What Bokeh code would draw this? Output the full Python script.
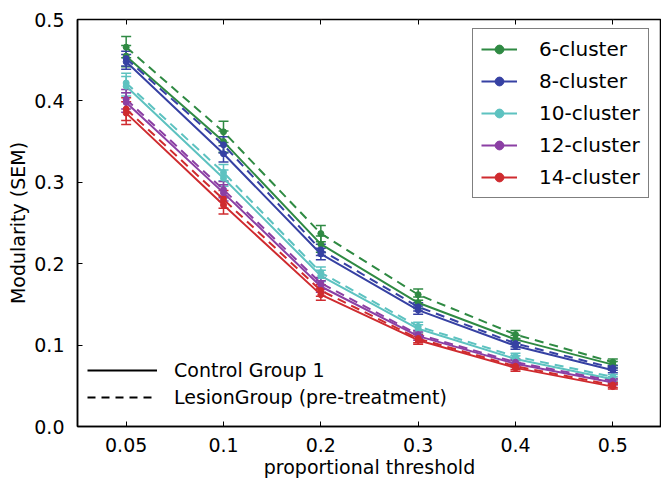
from bokeh.plotting import figure
from bokeh.models import (ColumnDataSource, Whisker, TeeHead, Legend, LegendItem,
                          FactorRange, CategoricalAxis, Range1d)
from bokeh.embed import file_html
from bokeh.resources import INLINE

thresholds = ["0.05", "0.1", "0.2", "0.3", "0.4", "0.5"]
clusters = ["6-cluster", "8-cluster", "10-cluster", "12-cluster", "14-cluster"]
colors = ["#2f8a43", "#3641a3", "#5dc2c0", "#8b3fa4", "#cf2b2f"]

# Control Group 1 (solid)
control_6 = [0.455, 0.350, 0.224, 0.152, 0.107, 0.076]
control_8 = [0.448, 0.335, 0.212, 0.143, 0.099, 0.069]
control_10 = [0.418, 0.305, 0.185, 0.120, 0.083, 0.058]
control_12 = [0.398, 0.287, 0.172, 0.111, 0.077, 0.054]
control_14 = [0.385, 0.272, 0.162, 0.106, 0.072, 0.049]

# LesionGroup (pre-treatment) (dashed)
lesion_6 = [0.466, 0.362, 0.237, 0.162, 0.113, 0.079]
lesion_8 = [0.452, 0.346, 0.217, 0.147, 0.102, 0.072]
lesion_10 = [0.422, 0.312, 0.189, 0.123, 0.086, 0.061]
lesion_12 = [0.402, 0.291, 0.176, 0.113, 0.079, 0.056]
lesion_14 = [0.390, 0.279, 0.167, 0.108, 0.074, 0.051]

# SEM
sem_6 = [0.013, 0.013, 0.010, 0.007, 0.005, 0.004]
sem_8 = [0.009, 0.010, 0.007, 0.005, 0.004, 0.003]
sem_10 = [0.012, 0.010, 0.007, 0.005, 0.004, 0.003]
sem_12 = [0.012, 0.010, 0.007, 0.005, 0.004, 0.003]
sem_14 = [0.014, 0.011, 0.007, 0.005, 0.004, 0.003]

y_ticks = [0.0, 0.1, 0.2, 0.3, 0.4, 0.5]

control = [control_6, control_8, control_10, control_12, control_14]
lesion = [lesion_6, lesion_8, lesion_10, lesion_12, lesion_14]
sems = [sem_6, sem_8, sem_10, sem_12, sem_14]

FONT = "DejaVu Sans"

p = figure(frame_width=584, frame_height=407, output_backend="svg", toolbar_location=None,
           x_range=FactorRange(*thresholds, range_padding=0),
           y_range=Range1d(0, 0.5),
           min_border_left=77, min_border_right=0, min_border_top=19,
           min_border_bottom=50)
p.xgrid.visible = False
p.ygrid.visible = False
p.outline_line_color = "black"
p.outline_line_width = 1.5
p.background_fill_color = "white"
p.border_fill_color = "white"

for ax in (p.xaxis[0], p.yaxis[0]):
    ax.major_tick_in = 5
    ax.major_tick_out = 0
    ax.minor_tick_in = 0
    ax.minor_tick_out = 0
    ax.axis_line_color = "black"
    ax.axis_line_width = 1.5
    ax.major_tick_line_width = 1
    ax.major_label_text_font = FONT
    ax.major_label_text_font_size = "19px"
    ax.major_label_text_color = "black"
    ax.axis_label_text_font = FONT
    ax.axis_label_text_font_size = "19px"
    ax.axis_label_text_font_style = "normal"
    ax.axis_label_text_color = "black"

p.yaxis.ticker = y_ticks
p.yaxis.major_label_overrides = {t: f"{t:.1f}" for t in y_ticks}
p.yaxis.major_label_standoff = 13
p.yaxis.axis_label = "Modularity (SEM)"
p.yaxis.axis_label_standoff = 2
p.xaxis.major_label_standoff = 11
p.xaxis.axis_label = "proportional threshold"
p.xaxis.axis_label_standoff = 1

top = CategoricalAxis(major_tick_in=5, major_tick_out=0, axis_line_color=None,
                      major_label_overrides={t: "" for t in thresholds},
                      major_label_text_font_size="1px", major_label_standoff=0)
p.add_layout(top, "above")

legend_items = []
for name, col, c_vals, l_vals, s in zip(clusters, colors, control, lesion, sems):
    src_c = ColumnDataSource(dict(x=thresholds, y=c_vals,
                                  upper=[v + e for v, e in zip(c_vals, s)],
                                  lower=[v - e for v, e in zip(c_vals, s)]))
    src_l = ColumnDataSource(dict(x=thresholds, y=l_vals,
                                  upper=[v + e for v, e in zip(l_vals, s)],
                                  lower=[v - e for v, e in zip(l_vals, s)]))
    for src, dash in ((src_l, "9 6"), (src_c, "solid")):
        w = Whisker(source=src, base="x", upper="upper", lower="lower",
                    line_color=col, line_width=1.5,
                    upper_head=TeeHead(size=10, line_color=col, line_width=1.5),
                    lower_head=TeeHead(size=10, line_color=col, line_width=1.5))
        p.add_layout(w)
        lr = p.line("x", "y", source=src, line_color=col, line_width=2, line_dash=dash)
        sr = p.scatter("x", "y", source=src, size=6, fill_color=col, line_color=col)
        if dash == "solid":
            legend_items.append(LegendItem(label=name, renderers=[lr, sr]))

leg1 = Legend(items=legend_items, location=(395, 228),
              border_line_color="black", border_line_width=1.5,
              background_fill_color="white", background_fill_alpha=1,
              padding=8, spacing=8, glyph_width=36, glyph_height=22,
              label_height=22, label_standoff=22,
              label_text_font=FONT, label_text_font_size="20px",
              label_text_color="black")
p.add_layout(leg1)

nan = float("nan")
solid_r = p.line(x=[thresholds[0]], y=[nan], line_color="black", line_width=2)
dash_r = p.line(x=[thresholds[0]], y=[nan], line_color="black", line_width=2, line_dash="8 6")
leg2 = Legend(items=[LegendItem(label="Control Group 1", renderers=[solid_r]),
                     LegendItem(label="LesionGroup (pre-treatment)", renderers=[dash_r])],
              location=(10, 18), border_line_color=None,
              background_fill_alpha=0, padding=0, spacing=5,
              glyph_width=70, glyph_height=20, label_height=20, label_standoff=17,
              label_text_font=FONT, label_text_font_size="19px",
              label_text_color="black")
p.add_layout(leg2)

open("out.html", "w").write(file_html(p, INLINE))
